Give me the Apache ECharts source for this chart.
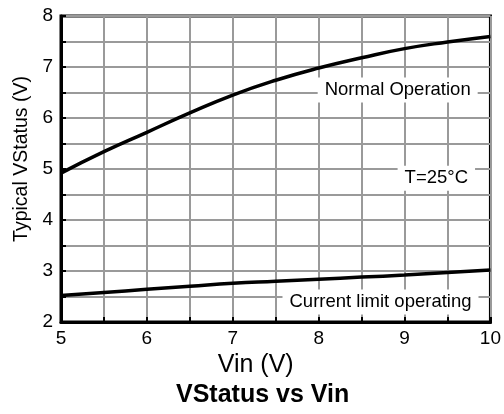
<!DOCTYPE html>
<head>
    <meta charset="utf-8">
    <title>VStatus vs Vin</title>
    <script src="https://cdn.jsdelivr.net/npm/echarts@6/dist/echarts.min.js"></script>
    <style>body{margin:0;background:#fff}</style>
</head>
<body>
    <div id="main" style="width:504px;height:414px"></div>
    <script type="text/javascript">
        // data
        var vin = [5, 5.5, 6, 6.5, 7, 7.5, 8, 8.5, 9, 9.5, 10];
        var normalOp = [4.92, 5.34, 5.72, 6.1, 6.45, 6.74, 6.98, 7.18, 7.36, 7.49, 7.6];
        var currentLimit = [2.52, 2.58, 2.64, 2.7, 2.76, 2.8, 2.84, 2.88, 2.92, 2.97, 3.02];
        var notes = [
            {text: 'Normal Operation', at: [8.92, 6.55]},
            {text: 'T=25°C', at: [9.37, 4.82]},
            {text: 'Current limit operating', at: [8.72, 2.39]}
        ];

        var font = 'Liberation Sans, Arial, sans-serif';
        var myChart = echarts.init(document.getElementById('main'));

        function pairs(ys) {
            return vin.map(function (x, i) { return [x, ys[i]]; });
        }

        var option = {
            animation: false,
            title: {
                text: 'VStatus vs Vin',
                left: 176,
                top: 383,
                padding: 0,
                textStyle: {fontFamily: font, fontSize: 25, fontWeight: 'bold', color: '#000'}
            },
            grid: {
                left: 61, top: 16, right: 12, bottom: 92,
                show: true, borderColor: '#000', borderWidth: 3
            },
            xAxis: {
                type: 'value', min: 5, max: 10, interval: 0.5,
                name: 'Vin (V)', nameLocation: 'middle', nameGap: 22,
                nameTextStyle: {fontFamily: font, fontSize: 25, color: '#000', padding: [0, 40, 0, 0]},
                axisLine: {lineStyle: {color: '#000', width: 3}},
                axisTick: {inside: true, length: 5, lineStyle: {color: '#000', width: 2}},
                axisLabel: {
                    fontFamily: font, fontSize: 19, color: '#000', margin: 7,
                    formatter: function (v) { return v % 1 === 0 ? String(v) : ''; }
                },
                splitLine: {lineStyle: {color: '#9a9a9a', width: 2}}
            },
            yAxis: {
                type: 'value', min: 2, max: 8, interval: 0.5,
                name: 'Typical VStatus (V)', nameLocation: 'middle', nameGap: 25,
                nameTextStyle: {fontFamily: font, fontSize: 19.5, color: '#000', padding: [0, 0, 0, 20]},
                axisLine: {show: true, lineStyle: {color: '#000', width: 3}},
                axisTick: {show: true, inside: true, length: 5, lineStyle: {color: '#000', width: 2}},
                axisLabel: {
                    fontFamily: font, fontSize: 19, color: '#000', margin: 8,
                    formatter: function (v) { return v % 1 === 0 ? String(v) : ''; }
                },
                splitLine: {lineStyle: {color: '#9a9a9a', width: 2}}
            },
            series: [
                {
                    name: 'Normal Operation', type: 'line', smooth: true, symbol: 'none',
                    data: pairs(normalOp),
                    lineStyle: {color: '#000', width: 3.5},
                    markPoint: {
                        symbol: 'circle', symbolSize: 0,
                        data: notes.map(function (n) {
                            return {
                                coord: n.at,
                                label: {
                                    show: true, formatter: n.text, position: 'inside',
                                    fontFamily: font, fontSize: 18.5, color: '#000',
                                    backgroundColor: '#fff', padding: [3, 7]
                                }
                            };
                        })
                    }
                },
                {
                    name: 'Current limit operating', type: 'line', smooth: true, symbol: 'none',
                    data: pairs(currentLimit),
                    lineStyle: {color: '#000', width: 3.5}
                }
            ]
        };
        myChart.setOption(option);
    </script>
</body>
